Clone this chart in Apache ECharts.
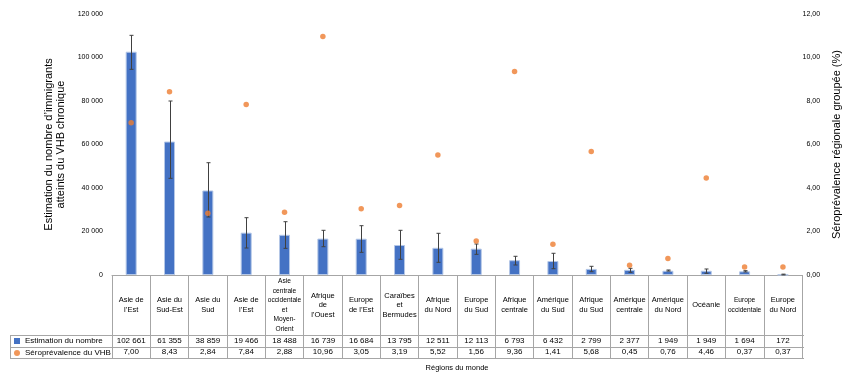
<!DOCTYPE html>
<html><head><meta charset="utf-8">
<script src="https://cdn.jsdelivr.net/npm/echarts@6/dist/echarts.min.js"></script>
<style>html,body{margin:0;padding:0;background:#fff}#c{width:850px;height:386px}</style>
</head><body><div id="c"></div>
<script>
const categories = [
  "Asie de\nl’Est", "Asie du\nSud-Est", "Asie du\nSud", "Asie de\nl’Est",
  "Asie\ncentrale\noccidentale\net\nMoyen-\nOrient", "Afrique\nde\nl’Ouest", "Europe\nde l’Est",
  "Caraïbes\net\nBermudes", "Afrique\ndu Nord", "Europe\ndu Sud", "Afrique\ncentrale",
  "Amérique\ndu Sud", "Afrique\ndu Sud", "Amérique\ncentrale", "Amérique\ndu Nord",
  "Océanie", "Europe\noccidentale", "Europe\ndu Nord"
];
const smallLabels = [4, 16];
const counts = [102661, 61355, 38859, 19466, 18488, 16739, 16684, 13795, 12511, 12113, 6793, 6432, 2799, 2377, 1949, 1949, 1694, 172];
const prevalence = [7.00, 8.43, 2.84, 7.84, 2.88, 10.96, 3.05, 3.19, 5.52, 1.56, 9.36, 1.41, 5.68, 0.45, 0.76, 4.46, 0.37, 0.37];
const errLow  = [94570, 44460, 26670, 12410, 12260, 13010, 10430, 7220, 5840, 9500, 4600, 2900, 1520, 1240, 1800, 780, 1400, 50];
const errHigh = [110200, 80000, 51630, 26350, 24500, 20550, 22670, 20550, 19170, 14250, 8600, 9980, 4000, 3070, 2300, 2760, 2000, 400];
const seriesNames = ["Estimation du nombre", "Séroprévalence du VHB"];
const leftTicks = {min: 0, max: 120000, interval: 20000};
const rightTicks = {min: 0, max: 12, interval: 2};

const fmtCount = n => String(n).replace(/\B(?=(\d{3})+(?!\d))/g, ' ');
const fmtPct = v => v.toFixed(2).replace('.', ',');

const GRID = {left: 112, right: 46, top: 14, bottom: 111};
const W = 850, H = 386;
const axisY = H - GRID.bottom;
const TABLE_LEFT = 10;
const ROWS = [335, 346.5, 358];
const LINE = '#a6a6a6';
const FONT = 'Liberation Sans';

const chart = echarts.init(document.getElementById('c'), null, {renderer: 'canvas'});

const tableLines = ROWS.map(y => ({
  type: 'line', shape: {x1: TABLE_LEFT, y1: Math.round(y) + 0.5, x2: W - GRID.right, y2: Math.round(y) + 0.5},
  style: {stroke: LINE, lineWidth: 1}, silent: true
}));
tableLines.push({
  type: 'line', shape: {x1: TABLE_LEFT + 0.5, y1: Math.round(ROWS[0]) + 0.5, x2: TABLE_LEFT + 0.5, y2: Math.round(ROWS[2]) + 0.5},
  style: {stroke: LINE, lineWidth: 1}, silent: true
});

const valueAxisBase = (data, offset) => ({
  type: 'category', data: data, position: 'bottom', offset: offset, gridIndex: 0,
  axisLine: {show: false}, axisTick: {show: false}, splitLine: {show: false},
  axisLabel: {interval: 0, margin: 0, verticalAlign: 'middle', fontSize: 8, color: '#000', fontFamily: FONT}
});

chart.setOption({
  animation: false,
  textStyle: {fontFamily: FONT},
  grid: GRID,
  legend: {
    orient: 'vertical', left: 14, top: 337, padding: 0, itemWidth: 6, itemHeight: 6, itemGap: 4,
    textStyle: {fontSize: 8, color: '#000', fontFamily: FONT},
    data: [
      {name: seriesNames[0], icon: 'rect', itemStyle: {borderWidth: 0}},
      {name: seriesNames[1], icon: 'circle'}
    ],
    selectedMode: false
  },
  xAxis: [
    {
      type: 'category', data: categories, gridIndex: 0,
      axisLine: {lineStyle: {color: LINE}},
      axisTick: {show: true, interval: 0, length: Math.round(ROWS[2]) - axisY, lineStyle: {color: LINE}},
      axisLabel: {
        interval: 0, margin: 30, verticalAlign: 'middle', color: '#000', fontFamily: FONT,
        formatter: (v, i) => '{' + (smallLabels.includes(i) ? 's' : 'n') + '|' + v + '}',
        rich: {
          n: {fontSize: 7.5, lineHeight: 9.5, color: '#000', fontFamily: FONT, align: 'center'},
          s: {fontSize: 6.6, lineHeight: 9.5, color: '#000', fontFamily: FONT, align: 'center'}
        }
      },
      name: 'Régions du monde', nameLocation: 'middle', nameGap: 89,
      nameTextStyle: {fontSize: 7.5, color: '#000', fontFamily: FONT}
    },
    valueAxisBase(counts.map(fmtCount), 66),
    valueAxisBase(prevalence.map(fmtPct), 77)
  ],
  yAxis: [
    {
      type: 'value', min: leftTicks.min, max: leftTicks.max, interval: leftTicks.interval,
      axisLine: {show: false}, axisTick: {show: false}, splitLine: {show: false},
      axisLabel: {fontSize: 7, color: '#000', margin: 9, formatter: v => fmtCount(v), fontFamily: FONT},
      name: 'Estimation du nombre d’immigrants\natteints du VHB chronique',
      nameLocation: 'middle', nameGap: 35,
      nameTextStyle: {fontSize: 11, color: '#000', lineHeight: 12, fontFamily: FONT}
    },
    {
      type: 'value', position: 'right', min: rightTicks.min, max: rightTicks.max, interval: rightTicks.interval,
      axisLine: {show: false}, axisTick: {show: false}, splitLine: {show: false},
      axisLabel: {fontSize: 7, color: '#000', margin: 18, align: 'right', formatter: v => fmtPct(v), fontFamily: FONT},
      name: 'Séroprévalence régionale groupée (%)',
      nameLocation: 'middle', nameGap: 25,
      nameTextStyle: {fontSize: 11, color: '#000', fontFamily: FONT}
    }
  ],
  series: [
    {
      name: seriesNames[0], type: 'bar', xAxisIndex: 0, yAxisIndex: 0, data: counts,
      barWidth: 11,
      itemStyle: {color: '#4472c4', borderColor: '#b4c7e7', borderWidth: 1}
    },
    {
      name: 'err', type: 'custom', xAxisIndex: 0, yAxisIndex: 0,
      data: counts.map((c, i) => [i, errLow[i], errHigh[i]]),
      encode: {x: 0, y: [1, 2]},
      z: 5,
      renderItem: (params, api) => {
        const lo = api.coord([api.value(0), api.value(1)]);
        const hi = api.coord([api.value(0), api.value(2)]);
        const x = Math.round(lo[0]) + 0.5, c = 2;
        const st = {stroke: '#404040', lineWidth: 1};
        return {type: 'group', children: [
          {type: 'line', shape: {x1: x, y1: hi[1], x2: x, y2: lo[1]}, style: st},
          {type: 'line', shape: {x1: x - c, y1: hi[1], x2: x + c, y2: hi[1]}, style: st},
          {type: 'line', shape: {x1: x - c, y1: lo[1], x2: x + c, y2: lo[1]}, style: st}
        ]};
      }
    },
    {
      name: seriesNames[1], type: 'scatter', xAxisIndex: 0, yAxisIndex: 1, data: prevalence,
      symbol: 'circle', symbolSize: 5.5, z: 6,
      itemStyle: {color: '#ed7d31'}
    }
  ],
  graphic: tableLines
});
</script></body></html>
